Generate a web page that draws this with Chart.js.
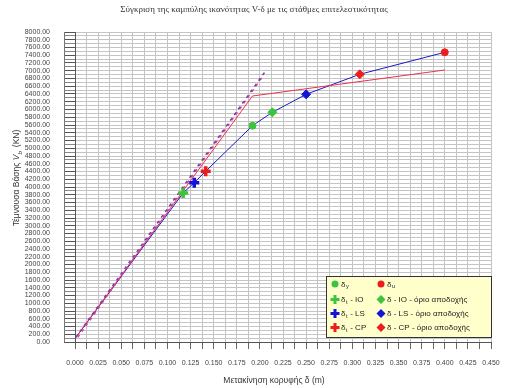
<!DOCTYPE html>
<html>
<head>
<meta charset="utf-8">
<script src="https://cdn.jsdelivr.net/npm/chart.js@4.4.0/dist/chart.umd.min.js"></script>
<style>
  body { margin: 0; background: #fff; }
  canvas { display: block; }
</style>
</head>
<body>
<canvas id="myChart" width="510" height="388"></canvas>
<script>

// data (δ in m, V in kN)

var chartTitle = "Σύγκριση της καμπύλης ικανότητας V-δ με τις στάθμες επιτελεστικότητας";

var capX = [0.001, 0.117, 0.129, 0.1414, 0.192, 0.2135, 0.25, 0.308, 0.4];
var capV = [120, 3845, 4111, 4408, 5582, 5928, 6392, 6908, 7476];

var bilinX = [0.001, 0.192, 0.4];
var bilinV = [120, 6348, 7019];

var initX = [0.001, 0.2075];
var initV = [120, 7040];
var init2X = [0.003, 0.2045];
var init2V = [120, 6900];

var yieldPt = [0.192, 5582];
var ultPt = [0.4, 7476];
var targetIO = [0.117, 3845];
var targetLS = [0.129, 4111];
var targetCP = [0.1414, 4408];
var limitIO = [0.2135, 5928];
var limitLS = [0.25, 6392];
var limitCP = [0.308, 6908];

var green = "#3cc43c";
var blue = "#1414d8";
var red = "#ee1c1c";

function pts(xs, ys) {
  return xs.map(function(x, i) { return {x: x, y: ys[i]}; });
}

function marker(label, p, color, style, r, bw) {
  return {
    label: label,
    data: [{x: p[0], y: p[1]}],
    showLine: false,
    pointStyle: style,
    pointRadius: r,
    pointBorderWidth: bw,
    backgroundColor: color,
    borderColor: color,
    legendShow: true
  };
}

// text with "_x" subscripts
function drawSubText(ctx, text, x, y, size) {
  var parts = text.split("_");
  ctx.font = size + "px 'Liberation Sans'";
  ctx.fillText(parts[0], x, y);
  x += ctx.measureText(parts[0]).width;
  for (var i = 1; i < parts.length; i++) {
    var sub = parts[i].charAt(0);
    var rest = parts[i].slice(1);
    ctx.font = (size * 0.7) + "px 'Liberation Sans'";
    ctx.fillText(sub, x + 0.5, y + size * 0.3);
    x += ctx.measureText(sub).width + 1;
    ctx.font = size + "px 'Liberation Sans'";
    ctx.fillText(rest, x, y);
    x += ctx.measureText(rest).width;
  }
}

function drawMarker(ctx, style, color, x, y) {
  ctx.fillStyle = color;
  ctx.strokeStyle = color;
  if (style === "circle") {
    ctx.beginPath();
    ctx.arc(x, y, 3.5, 0, Math.PI * 2);
    ctx.fill();
  } else if (style === "cross") {
    ctx.lineWidth = 3;
    ctx.beginPath();
    ctx.moveTo(x - 4.5, y); ctx.lineTo(x + 4.5, y);
    ctx.moveTo(x, y - 4.5); ctx.lineTo(x, y + 4.5);
    ctx.stroke();
  } else {
    ctx.beginPath();
    ctx.moveTo(x, y - 4.5); ctx.lineTo(x + 4.5, y);
    ctx.lineTo(x, y + 4.5); ctx.lineTo(x - 4.5, y);
    ctx.closePath();
    ctx.fill();
  }
}

var extras = {
  id: "extras",
  afterDraw: function(chart) {
    var ctx = chart.ctx;
    var area = chart.chartArea;
    ctx.save();

    // outer bar of the y tick marks
    ctx.strokeStyle = "#777";
    ctx.lineWidth = 1;
    ctx.beginPath();
    ctx.moveTo(64.5, area.top);
    ctx.lineTo(64.5, area.bottom);
    ctx.stroke();

    // title
    ctx.fillStyle = "#333";
    ctx.textBaseline = "middle";
    ctx.textAlign = "center";
    ctx.font = "9px 'Liberation Serif'";
    ctx.fillText(chartTitle, 254, 10);

    // x axis title
    ctx.font = "8.5px 'Liberation Sans'";
    ctx.fillText("Μετακίνηση κορυφής δ (m)", 274, 381);

    // y axis title
    ctx.save();
    ctx.translate(17, 178);
    ctx.rotate(-Math.PI / 2);
    ctx.textAlign = "left";
    var t1 = "Τέμνουσα Βάσης ";
    var t2 = " (KN)";
    ctx.font = "8.5px 'Liberation Sans'";
    var w1 = ctx.measureText(t1).width;
    var w2 = ctx.measureText(t2).width;
    ctx.font = "italic 8.5px 'Liberation Sans'";
    var wv = ctx.measureText("V").width;
    var tot = w1 + wv + 5 + w2;
    var x0 = -tot / 2;
    ctx.font = "8.5px 'Liberation Sans'";
    ctx.fillText(t1, x0, 0);
    ctx.font = "italic 8.5px 'Liberation Sans'";
    ctx.fillText("V", x0 + w1, 0);
    ctx.font = "italic 6px 'Liberation Sans'";
    ctx.fillText("b", x0 + w1 + wv, 3);
    ctx.font = "8.5px 'Liberation Sans'";
    ctx.fillText(t2, x0 + w1 + wv + 5, 0);
    ctx.restore();

    // legend box
    var bx = 326, by = 276, bw = 165, bh = 61;
    ctx.fillStyle = "#ffffcc";
    ctx.fillRect(bx, by, bw, bh);
    ctx.strokeStyle = "#333";
    ctx.lineWidth = 1;
    ctx.strokeRect(bx + 0.5, by + 0.5, bw, bh);

    var rows = [284, 299.5, 313.5, 327.5];
    var cols = [335, 381];
    var items = chart.data.datasets.filter(function(d) { return d.legendShow; });
    items.forEach(function(d, i) {
      var cx = cols[i % 2];
      var cy = rows[Math.floor(i / 2)];
      drawMarker(ctx, d.pointStyle, d.borderColor, cx, cy);
      ctx.fillStyle = "#222";
      ctx.textAlign = "left";
      drawSubText(ctx, d.label, cx + 6, cy + 0.5, 8);
    });

    ctx.restore();
  }
};

new Chart("myChart", {
  type: "scatter",
  data: {
    datasets: [
      marker("δ_y", yieldPt, green, "circle", 3.5, 1),
      marker("δ_u", ultPt, red, "circle", 3.5, 1),
      marker("δ_t - IO", targetIO, green, "cross", 5, 3.5),
      marker("δ - IO - όριο αποδοχής", limitIO, green, "rectRot", 4.5, 1),
      marker("δ_t - LS", targetLS, blue, "cross", 5, 3.5),
      marker("δ - LS - όριο αποδοχής", limitLS, blue, "rectRot", 4.5, 1),
      marker("δ_t - CP", targetCP, red, "cross", 5, 3.5),
      marker("δ - CP - όριο αποδοχής", limitCP, red, "rectRot", 4.5, 1),
      {
        label: "initial stiffness",
        data: pts(initX, initV),
        showLine: true,
        borderColor: "#7a3aa8",
        borderWidth: 1.5,
        borderDash: [3, 4],
        pointRadius: 0
      },
      {
        label: "initial stiffness 2",
        data: pts(init2X, init2V),
        showLine: true,
        borderColor: "#e0409a",
        borderWidth: 1.5,
        borderDash: [3, 4],
        pointRadius: 0
      },
      {
        label: "bilinear",
        data: pts(bilinX, bilinV),
        showLine: true,
        borderColor: "#e8344c",
        borderWidth: 1,
        pointRadius: 0
      },
      {
        label: "capacity",
        data: pts(capX, capV),
        showLine: true,
        borderColor: "#1a1ac8",
        borderWidth: 1,
        pointRadius: 0
      }
    ]
  },
  options: {
    responsive: false,
    animation: false,
    devicePixelRatio: 1,
    layout: { padding: { left: 0, right: 19, top: 32, bottom: 0 } },
    plugins: {
      legend: { display: false },
      tooltip: { enabled: false },
      title: { display: false }
    },
    scales: {
      x: {
        type: "linear",
        min: 0,
        max: 0.45,
        afterFit: function(s) { s.height = 46; },
        ticks: {
          stepSize: 0.0125,
          autoSkip: false,
          maxRotation: 0,
          padding: 10,
          color: "#444",
          font: { family: "'Liberation Sans'", size: 7 },
          callback: function(v) {
            var k = v / 0.025;
            return Math.abs(k - Math.round(k)) < 1e-6 ? v.toFixed(3) : "";
          }
        },
        grid: { color: "#c4c4c4", tickLength: 7, tickColor: "#666" },
        border: { color: "#555", width: 1 }
      },
      y: {
        min: 0,
        max: 8000,
        afterFit: function(s) { s.width = 75; },
        ticks: {
          stepSize: 100,
          autoSkip: false,
          padding: 14,
          color: "#444",
          font: { family: "'Liberation Sans'", size: 7 },
          callback: function(v) {
            return v % 200 === 0 ? v.toFixed(2) : "";
          }
        },
        grid: {
          color: "#c4c4c4",
          tickLength: 11,
          tickColor: function(c) {
            return c.tick && c.tick.value % 200 === 0 ? "#555" : "#888";
          }
        },
        border: { color: "#555", width: 1 }
      }
    }
  },
  plugins: [extras]
});

</script>
</body>
</html>
